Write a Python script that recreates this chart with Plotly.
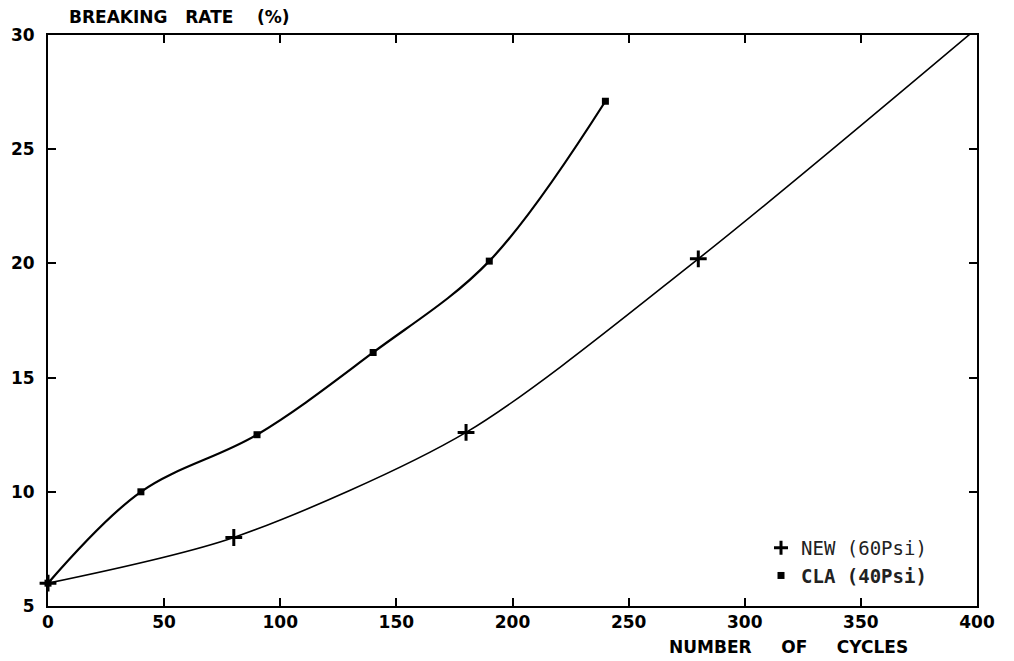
import plotly.graph_objects as go

new_cycles = [0, 80, 180, 280, 400]
new_rate = [6.0, 8.0, 12.6, 20.2, 30.3]
cla_cycles = [0, 40, 90, 140, 190, 240]
cla_rate = [6.0, 10.0, 12.5, 16.1, 20.1, 27.1]
x_ticks = [0, 50, 100, 150, 200, 250, 300, 350, 400]
y_ticks = [5, 10, 15, 20, 25, 30]

FONT = "DejaVu Sans"
TICKFONT = dict(family=FONT, size=17, color="black", weight="bold")

fig = go.Figure()
fig.add_trace(go.Scatter(
    x=new_cycles, y=new_rate, mode="lines+markers", showlegend=False,
    line=dict(color="black", width=1.6, shape="spline", smoothing=0.8),
    marker=dict(symbol="cross-thin", size=12, line=dict(color="black", width=3), color="black"),
    cliponaxis=False,
))
fig.add_trace(go.Scatter(
    x=cla_cycles, y=cla_rate, mode="lines+markers", showlegend=False,
    line=dict(color="black", width=2.2, shape="spline", smoothing=1.0),
    marker=dict(symbol="square", size=7, color="black"),
    cliponaxis=False,
))
# legend entries (markers only, as in the reference)
fig.add_trace(go.Scatter(
    x=[None], y=[None], mode="markers", name="NEW (60Psi)",
    marker=dict(symbol="cross-thin", size=10, line=dict(color="black", width=3), color="black"),
))
fig.add_trace(go.Scatter(
    x=[None], y=[None], mode="markers", name="<b>CLA (40Psi)</b>",
    marker=dict(symbol="square", size=7, color="black"),
))

axis_common = dict(
    showgrid=False, zeroline=False, showline=True, linecolor="black", linewidth=2,
    mirror="ticks", ticks="inside", ticklen=8, tickwidth=2, tickcolor="black",
    tickfont=TICKFONT,
)
fig.update_xaxes(range=[0, 400], tickvals=x_ticks, ticktext=[str(v) for v in x_ticks],
                 ticklabelstandoff=0, **axis_common)
fig.update_yaxes(range=[5, 30], tickvals=y_ticks, ticktext=[str(v) for v in y_ticks],
                 ticklabelstandoff=8, **axis_common)

fig.update_layout(
    width=1014, height=661,
    margin=dict(l=48, r=37, t=35, b=55, autoexpand=False),
    paper_bgcolor="white", plot_bgcolor="white",
    showlegend=True,
    legend=dict(x=0.7675, y=0.135, xanchor="left", yanchor="top",
                font=dict(family="DejaVu Sans Mono", size=19, color="#222"),
                bgcolor="rgba(0,0,0,0)", itemwidth=30, tracegroupgap=0),
    font=dict(family=FONT, color="black"),
    annotations=[
        dict(text="BREAKING   RATE    (%)", xref="paper", yref="paper", x=(67 - 48) / 929, y=1.0,
             yshift=18, xanchor="left", yanchor="middle", showarrow=False,
             font=dict(family=FONT, size=17, color="black", weight="bold")),
        dict(text="NUMBER     OF     CYCLES", xref="paper", yref="paper", x=(910 - 48) / 929, y=0,
             yshift=-41, xanchor="right", yanchor="middle", showarrow=False,
             font=dict(family=FONT, size=17, color="black", weight="bold")),
    ],
)

fig.write_html("out.html", config={"displayModeBar": False},
               post_script="document.body.style.margin='0';document.body.style.padding='0';document.body.style.overflow='hidden';")
